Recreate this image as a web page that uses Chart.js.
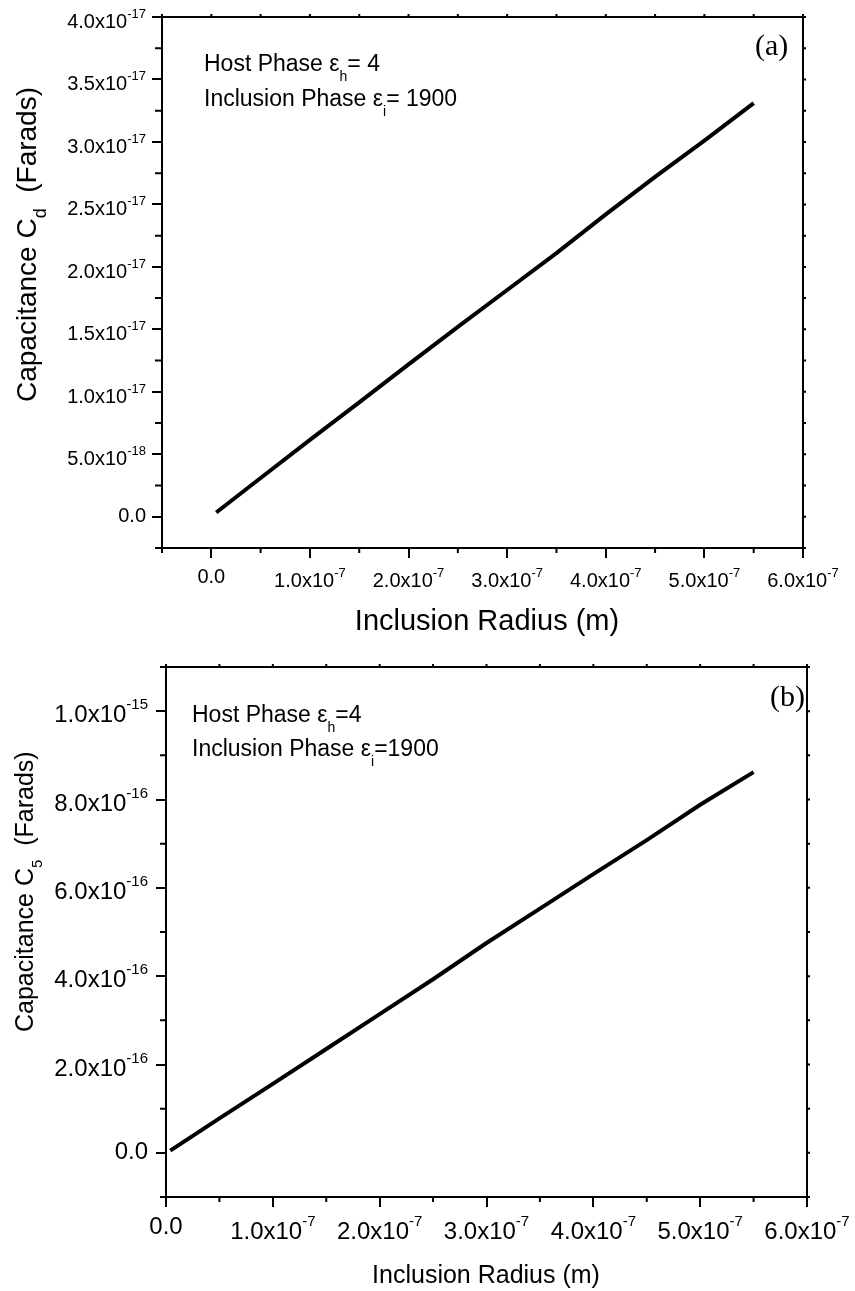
<!DOCTYPE html>
<html>
<head>
<meta charset="utf-8">
<script src="https://cdn.jsdelivr.net/npm/chart.js@4.4.1/dist/chart.umd.min.js"></script>
<style>
  body { margin: 0; background: #fff; }
  canvas { display: block; }
</style>
</head>
<body>
<canvas id="chartA" width="855" height="640"></canvas>
<canvas id="chartB" width="855" height="651"></canvas>
<script>
// (a) capacitance Cd vs inclusion radius
const radiusA = [5e-9, 5e-8, 1e-7, 1.5e-7, 2e-7, 2.5e-7, 3e-7, 3.5e-7, 4e-7, 4.5e-7, 5e-7, 5.5e-7];
const capA = [3.4e-19, 3.1e-18, 6.15e-18, 9.15e-18, 1.22e-17, 1.52e-17, 1.815e-17, 2.11e-17, 2.42e-17, 2.72e-17, 3.01e-17, 3.31e-17];
const xTicksA = [0, 1e-7, 2e-7, 3e-7, 4e-7, 5e-7, 6e-7];
const xLabelsA = ["0.0", "1.0x10^-7", "2.0x10^-7", "3.0x10^-7", "4.0x10^-7", "5.0x10^-7", "6.0x10^-7"];
const xMinorA = [-5e-8, 5e-8, 1.5e-7, 2.5e-7, 3.5e-7, 4.5e-7, 5.5e-7];
const yTicksA = [0, 5e-18, 1e-17, 1.5e-17, 2e-17, 2.5e-17, 3e-17, 3.5e-17, 4e-17];
const yLabelsA = ["0.0", "5.0x10^-18", "1.0x10^-17", "1.5x10^-17", "2.0x10^-17", "2.5x10^-17", "3.0x10^-17", "3.5x10^-17", "4.0x10^-17"];
const yMinorA = [-2.5e-18, 2.5e-18, 7.5e-18, 1.25e-17, 1.75e-17, 2.25e-17, 2.75e-17, 3.25e-17, 3.75e-17];

// (b) capacitance C5 vs inclusion radius
const radiusB = [4e-9, 5e-8, 1e-7, 1.5e-7, 2e-7, 2.5e-7, 3e-7, 3.5e-7, 4e-7, 4.5e-7, 5e-7, 5.5e-7];
const capB = [5e-18, 7.8e-17, 1.56e-16, 2.35e-16, 3.14e-16, 3.93e-16, 4.75e-16, 5.53e-16, 6.31e-16, 7.08e-16, 7.88e-16, 8.62e-16];
const xTicksB = [0, 1e-7, 2e-7, 3e-7, 4e-7, 5e-7, 6e-7];
const xLabelsB = ["0.0", "1.0x10^-7", "2.0x10^-7", "3.0x10^-7", "4.0x10^-7", "5.0x10^-7", "6.0x10^-7"];
const xMinorB = [5e-8, 1.5e-7, 2.5e-7, 3.5e-7, 4.5e-7, 5.5e-7];
const yTicksB = [0, 2e-16, 4e-16, 6e-16, 8e-16, 1e-15];
const yLabelsB = ["0.0", "2.0x10^-16", "4.0x10^-16", "6.0x10^-16", "8.0x10^-16", "1.0x10^-15"];
const yMinorB = [-1e-16, 1e-16, 3e-16, 5e-16, 7e-16, 9e-16, 1.1e-15];

const SANS = '"Liberation Sans", Arial, sans-serif';
const SERIF = '"Liberation Serif", "Times New Roman", serif';

function partsWidth(ctx, parts) {
  let w = 0;
  parts.forEach(function (p) {
    ctx.font = p.size + "px " + (p.family || SANS);
    w += ctx.measureText(p.t).width;
  });
  return w;
}

function drawParts(ctx, x, y, parts, align) {
  const w = partsWidth(ctx, parts);
  let cx = x;
  if (align === "right") cx = x - w;
  if (align === "center") cx = x - w / 2;
  ctx.textAlign = "left";
  ctx.textBaseline = "alphabetic";
  ctx.fillStyle = "#000";
  parts.forEach(function (p) {
    ctx.font = p.size + "px " + (p.family || SANS);
    ctx.fillText(p.t, cx, y + (p.dy || 0));
    cx += ctx.measureText(p.t).width;
  });
}

function tickParts(label, o) {
  const bits = label.split("^");
  const parts = [{ t: bits[0], size: o.tickFont }];
  if (bits[1]) parts.push({ t: bits[1], size: o.supFont, dy: -o.supRise });
  return parts;
}

// minor ticks, closed frame, tick labels with exponents, titles and notes
const decorPlugin = {
  id: "decor",
  afterDraw: function (chart, args, o) {
    const ctx = chart.ctx;
    const a = chart.chartArea;
    const xs = chart.scales.x;
    const ys = chart.scales.y;
    ctx.save();
    ctx.strokeStyle = "#000";
    ctx.lineWidth = 2;

    // top and right edges of the frame
    ctx.beginPath();
    ctx.moveTo(a.left, a.top);
    ctx.lineTo(a.right, a.top);
    ctx.lineTo(a.right, a.bottom);
    ctx.stroke();

    ctx.beginPath();
    o.xMinor.forEach(function (v) {
      const px = xs.getPixelForValue(v);
      ctx.moveTo(px, a.bottom);
      ctx.lineTo(px, a.bottom + o.minorLenX);
    });
    o.yMinor.forEach(function (v) {
      const py = ys.getPixelForValue(v);
      ctx.moveTo(a.left, py);
      ctx.lineTo(a.left - o.minorLenY, py);
    });
    o.xTicks.concat(o.xMinor).forEach(function (v) {
      const px = xs.getPixelForValue(v);
      ctx.moveTo(px, a.top);
      ctx.lineTo(px, a.top - o.edgeLen);
    });
    o.yTicks.concat(o.yMinor).forEach(function (v) {
      const py = ys.getPixelForValue(v);
      ctx.moveTo(a.right, py);
      ctx.lineTo(a.right + o.edgeLen, py);
    });
    ctx.stroke();

    o.xTicks.forEach(function (v, i) {
      const label = o.xLabels[i];
      const px = xs.getPixelForValue(v);
      const py = a.bottom + (label.indexOf("^") > 0 ? o.xLabelBase : o.xPlainBase);
      drawParts(ctx, px, py, tickParts(label, o), "center");
    });
    o.yTicks.forEach(function (v, i) {
      const label = o.yLabels[i];
      const py = ys.getPixelForValue(v) + (label.indexOf("^") > 0 ? o.yLabelDrop : o.yPlainDrop);
      drawParts(ctx, o.yRight, py, tickParts(label, o), "right");
    });

    drawParts(ctx, o.xTitle.x, o.xTitle.y, [{ t: o.xTitle.text, size: o.xTitle.size }], "center");

    ctx.save();
    ctx.translate(o.yTitle.x, o.yTitle.y);
    ctx.rotate(-Math.PI / 2);
    drawParts(ctx, 0, 0, o.yTitle.parts, "left");
    ctx.restore();

    o.notes.forEach(function (n) {
      drawParts(ctx, n.x, n.y, n.parts, "left");
    });
    drawParts(ctx, o.tag.x, o.tag.y, [{ t: o.tag.text, size: o.tag.size, family: SERIF }], "left");
    ctx.restore();
  }
};

function makeChart(id, xs, ys, xMin, xMax, yMin, yMax, xTicks, yTicks, yWidth, xHeight, padding, decor) {
  const points = xs.map(function (x, i) { return { x: x, y: ys[i] }; });
  const axisGrid = { drawOnChartArea: false, drawTicks: true, tickLength: 10, lineWidth: 2, color: "#000" };
  return new Chart(document.getElementById(id), {
    type: "line",
    data: {
      datasets: [{
        data: points,
        borderColor: "#000",
        borderWidth: 4,
        pointRadius: 0,
        tension: 0,
        fill: false,
      }],
    },
    options: {
      responsive: false,
      animation: false,
      devicePixelRatio: 1,
      layout: { padding: padding },
      plugins: {
        legend: { display: false },
        tooltip: { enabled: false },
        decor: decor,
      },
      scales: {
        x: {
          type: "linear",
          min: xMin,
          max: xMax,
          grid: axisGrid,
          border: { display: true, color: "#000", width: 2 },
          ticks: { display: false },
          afterBuildTicks: function (s) { s.ticks = xTicks.map(function (v) { return { value: v }; }); },
          afterFit: function (s) { s.height = xHeight; },
        },
        y: {
          type: "linear",
          min: yMin,
          max: yMax,
          grid: axisGrid,
          border: { display: true, color: "#000", width: 2 },
          ticks: { display: false },
          afterBuildTicks: function (s) { s.ticks = yTicks.map(function (v) { return { value: v }; }); },
          afterFit: function (s) { s.width = yWidth; },
        },
      },
    },
    plugins: [decorPlugin],
  });
}

makeChart("chartA", radiusA, capA, -5e-8, 6e-7, -2.5e-18, 4e-17, xTicksA, yTicksA, 162, 92,
  { top: 17, right: 52, left: 0, bottom: 0 },
  {
    xTicks: xTicksA, xLabels: xLabelsA, xMinor: xMinorA,
    yTicks: yTicksA, yLabels: yLabelsA, yMinor: yMinorA,
    minorLenX: 5, minorLenY: 7, edgeLen: 3,
    tickFont: 20, supFont: 13, supRise: 10,
    xLabelBase: 39, xPlainBase: 35, yRight: 146, yLabelDrop: 11, yPlainDrop: 5,
    xTitle: { text: "Inclusion Radius (m)", size: 29, x: 487, y: 630 },
    yTitle: { x: 36, y: 402, parts: [
      { t: "Capacitance C", size: 28 }, { t: "d", size: 18, dy: 10 }, { t: "  (Farads)", size: 28 }] },
    notes: [
      { x: 204, y: 71, parts: [{ t: "Host Phase \u03b5", size: 23 }, { t: "h", size: 14, dy: 10 }, { t: "= 4", size: 23 }] },
      { x: 204, y: 106, parts: [{ t: "Inclusion Phase \u03b5", size: 23 }, { t: "i", size: 14, dy: 10 }, { t: "= 1900", size: 23 }] },
    ],
    tag: { text: "(a)", size: 30, x: 755, y: 55 },
  });

makeChart("chartB", radiusB, capB, 0, 6e-7, -1e-16, 1.1e-15, xTicksB, yTicksB, 166, 94,
  { top: 27, right: 48, left: 0, bottom: 0 },
  {
    xTicks: xTicksB, xLabels: xLabelsB, xMinor: xMinorB,
    yTicks: yTicksB, yLabels: yLabelsB, yMinor: yMinorB,
    minorLenX: 5, minorLenY: 6, edgeLen: 3,
    tickFont: 24, supFont: 15, supRise: 13,
    xLabelBase: 42, xPlainBase: 37, yRight: 148, yLabelDrop: 11, yPlainDrop: 6,
    xTitle: { text: "Inclusion Radius (m)", size: 25, x: 486, y: 643 },
    yTitle: { x: 33, y: 392, parts: [
      { t: "Capacitance C", size: 25 }, { t: "5", size: 15, dy: 9 }, { t: "  (Farads)", size: 25 }] },
    notes: [
      { x: 192, y: 82, parts: [{ t: "Host Phase \u03b5", size: 23 }, { t: "h", size: 14, dy: 10 }, { t: "=4", size: 23 }] },
      { x: 192, y: 116, parts: [{ t: "Inclusion Phase \u03b5", size: 23 }, { t: "i", size: 14, dy: 10 }, { t: "=1900", size: 23 }] },
    ],
    tag: { text: "(b)", size: 30, x: 770, y: 66 },
  });
</script>
</body>
</html>
